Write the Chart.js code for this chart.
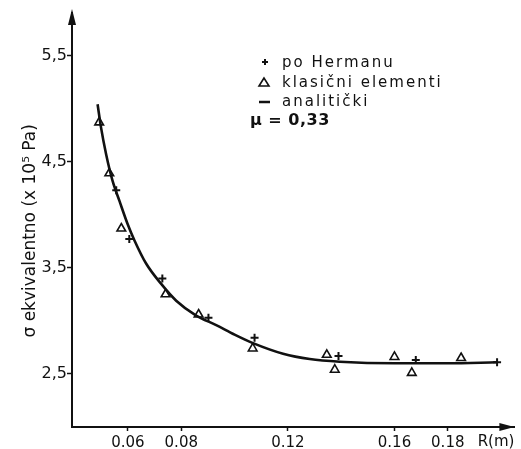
<!DOCTYPE html>
<html>
<head>
<meta charset="utf-8">
<script src="https://cdn.jsdelivr.net/npm/chart.js@4.4.1/dist/chart.umd.min.js"></script>
<style>
  html, body { margin: 0; padding: 0; background: #fff; }
  canvas { display: block; }
</style>
</head>
<body>
<canvas id="chart" width="521" height="449"></canvas>
<script>
// po Hermanu (+)
const hermanR = [0.0556, 0.0605, 0.0729, 0.0902, 0.1075, 0.139, 0.168, 0.1985]
const hermanSigma = [4.23, 3.77, 3.40, 3.03, 2.84, 2.67, 2.63, 2.61]

// klasicni elementi (triangles)
const klasicniR = [0.0492, 0.0530, 0.0575, 0.0741, 0.0865, 0.1068, 0.1346, 0.1376, 0.160, 0.1665, 0.185]
const klasicniSigma = [4.87, 4.39, 3.87, 3.25, 3.06, 2.74, 2.68, 2.54, 2.66, 2.51, 2.65]

// analiticki (curve)
const analitickiR = [0.0486, 0.0499, 0.0518, 0.0542, 0.0568, 0.0599, 0.0624, 0.0668, 0.0724, 0.0781,
  0.0856, 0.0931, 0.1000, 0.1069, 0.1182, 0.1282, 0.1395, 0.160, 0.180, 0.1985]
const analitickiSigma = [5.04, 4.82, 4.57, 4.32, 4.13, 3.91, 3.76, 3.54, 3.35, 3.19,
  3.05, 2.96, 2.87, 2.79, 2.69, 2.64, 2.615, 2.60, 2.60, 2.61]

const xTickValues = [0.06, 0.08, 0.12, 0.16, 0.18]
const yTickValues = [2.5, 3.5, 4.5, 5.5]

const toPoints = (xs, ys) => xs.map((x, i) => ({ x, y: ys[i] }))

const FONT = "'DejaVu Sans', sans-serif"
const INK = "#111"

// arrows on the axes + the legend block
const decorations = {
  id: "decorations",
  afterDraw(chart) {
    const { ctx, chartArea } = chart
    const { left, right, top, bottom } = chartArea
    ctx.save()
    ctx.fillStyle = INK
    ctx.strokeStyle = INK

    // y arrow
    ctx.beginPath()
    ctx.moveTo(left, top - 4)
    ctx.lineTo(left - 4, top + 12)
    ctx.lineTo(left + 4, top + 12)
    ctx.closePath()
    ctx.fill()
    ctx.lineWidth = 2
    ctx.beginPath()
    ctx.moveTo(left, top)
    ctx.lineTo(left, top + 10)
    ctx.stroke()

    // x arrow
    ctx.beginPath()
    ctx.moveTo(right, bottom)
    ctx.lineTo(right - 15, bottom - 4)
    ctx.lineTo(right - 15, bottom + 4)
    ctx.closePath()
    ctx.fill()

    // legend
    const tx = 282
    ctx.font = "15px " + FONT
    ctx.letterSpacing = "2px"
    ctx.textBaseline = "middle"
    ctx.textAlign = "left"
    ctx.fillText("po Hermanu", tx, 63)
    ctx.fillText("klasični elementi", tx, 83)
    ctx.fillText("analitički", tx, 102)
    ctx.font = "bold 16px " + FONT
    ctx.letterSpacing = "0.5px"
    ctx.fillText("μ = 0,33", 250, 121)

    // + marker
    ctx.lineWidth = 2
    ctx.beginPath()
    ctx.moveTo(262, 62)
    ctx.lineTo(268, 62)
    ctx.moveTo(265, 59)
    ctx.lineTo(265, 65)
    ctx.stroke()
    // triangle marker
    ctx.lineWidth = 1.6
    ctx.beginPath()
    ctx.moveTo(264, 78)
    ctx.lineTo(259, 86)
    ctx.lineTo(269, 86)
    ctx.closePath()
    ctx.stroke()
    // dash
    ctx.lineWidth = 2.5
    ctx.beginPath()
    ctx.moveTo(259, 102)
    ctx.lineTo(270, 102)
    ctx.stroke()
    ctx.restore()
  },
}

new Chart(document.getElementById("chart"), {
  type: "scatter",
  data: {
    datasets: [
      {
        label: "analitički",
        type: "line",
        data: toPoints(analitickiR, analitickiSigma),
        borderColor: INK,
        borderWidth: 2.6,
        pointRadius: 0,
        fill: false,
        cubicInterpolationMode: "monotone",
        order: 3,
      },
      {
        label: "klasični elementi",
        data: toPoints(klasicniR, klasicniSigma),
        pointStyle: "triangle",
        pointRadius: 5,
        borderColor: INK,
        borderWidth: 1.6,
        backgroundColor: "rgba(255,255,255,0)",
        order: 2,
      },
      {
        label: "po Hermanu",
        data: toPoints(hermanR, hermanSigma),
        pointStyle: "cross",
        pointRadius: 4,
        borderColor: INK,
        borderWidth: 2,
        order: 1,
      },
    ],
  },
  options: {
    responsive: false,
    animation: false,
    layout: { padding: { top: 13, right: 6, left: 0, bottom: 0 } },
    plugins: {
      legend: { display: false },
      tooltip: { enabled: false },
    },
    scales: {
      x: {
        type: "linear",
        min: 0.039,
        max: 0.205,
        afterFit: (scale) => { scale.height = 22 },
        afterBuildTicks: (scale) => { scale.ticks = xTickValues.map((v) => ({ value: v })) },
        border: { display: true, color: INK, width: 2 },
        grid: { drawOnChartArea: false, drawTicks: true, tickLength: 4, color: INK, tickWidth: 1.5 },
        ticks: {
          color: INK,
          padding: 3,
          maxRotation: 0,
          font: { family: FONT, size: 15 },
          callback: (v) => v.toFixed(2),
        },
        title: {
          display: true,
          text: "R(m)",
          align: "end",
          color: INK,
          font: { family: FONT, size: 15 },
          padding: { top: 0, bottom: -2 },
        },
      },
      y: {
        type: "linear",
        min: 2.0,
        max: 5.9,
        afterFit: (scale) => { scale.width = 72 },
        afterBuildTicks: (scale) => { scale.ticks = yTickValues.map((v) => ({ value: v })) },
        border: { display: true, color: INK, width: 2 },
        grid: { drawOnChartArea: false, drawTicks: true, tickLength: 5, color: INK, tickWidth: 1.5 },
        ticks: {
          color: INK,
          padding: 0,
          font: { family: FONT, size: 16 },
          callback: (v) => v.toFixed(1).replace(".", ","),
        },
        title: {
          display: true,
          text: "σ ekvivalentno (x 10⁵ Pa)    ",
          color: INK,
          font: { family: FONT, size: 17 },
          padding: { top: 20, bottom: 0 },
        },
      },
    },
  },
  plugins: [decorations],
})
</script>
</body>
</html>
